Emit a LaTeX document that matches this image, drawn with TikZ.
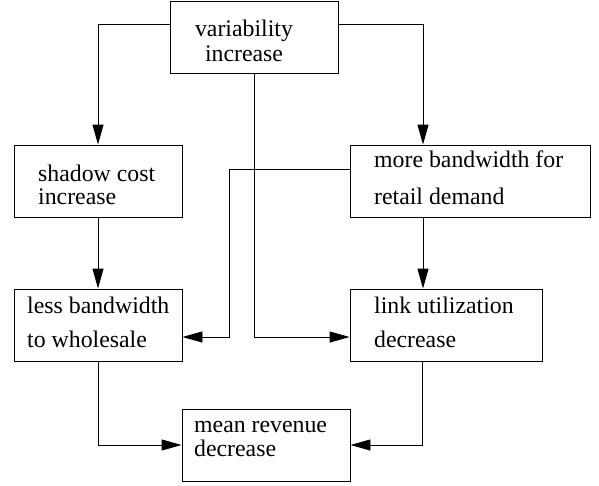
\documentclass[tikz,border=0pt]{standalone}
\usepackage{fontspec}
\setmainfont{Liberation Serif}
\usetikzlibrary{arrows.meta}
\begin{document}
\begin{tikzpicture}[x=1pt,y=-1pt,
  box/.style={draw,line width=0.9pt,inner sep=0pt,rectangle},
  txt/.style={inner sep=0pt,font=\fontsize{23.8}{26}\selectfont},
  link/.style={line width=0.9pt,-{Triangle[length=20pt,width=11pt]}},
  plain/.style={line width=0.9pt}]
\useasboundingbox (0,0) rectangle (599,485);
% boxes (corners in picture coordinates)
\node[box,minimum width=168pt,minimum height=72pt] (var)    at (254,37)  {};
\node[box,minimum width=168pt,minimum height=72pt] (shadow) at (98,181)  {};
\node[box,minimum width=240pt,minimum height=72pt] (retail) at (470,181) {};
\node[box,minimum width=168pt,minimum height=72pt] (less)   at (98,325)  {};
\node[box,minimum width=192pt,minimum height=72pt] (util)   at (446,325) {};
\node[box,minimum width=168pt,minimum height=72pt] (mean)   at (266,445) {};
% texts
\node[txt,anchor=base] (var1) at (244,36) {variability};
\node[txt,anchor=base] (var2) at (244,61) {increase};
\node[txt,anchor=base west] (sh1) at (38,181) {shadow cost};
\node[txt,anchor=base west] (sh2) at (38,204) {increase};
\node[txt,anchor=base west] (rt1) at (374,167) {more bandwidth for};
\node[txt,anchor=base west] (rt2) at (374,204) {retail demand};
\node[txt,anchor=base west] (ls1) at (27,313) {less bandwidth};
\node[txt,anchor=base west] (ls2) at (27,347) {to wholesale};
\node[txt,anchor=base west] (ut1) at (374,313) {link utilization};
\node[txt,anchor=base west] (ut2) at (374,347) {decrease};
\node[txt,anchor=base west] (mn1) at (194,432) {mean revenue};
\node[txt,anchor=base west] (mn2) at (194,456) {decrease};
% connectors
\coordinate (vl) at ([yshift=13pt]var.west);
\coordinate (vr) at ([yshift=13pt]var.east);
\draw[link] (vl) -| (shadow.north);
\draw[link] (vr) -| ([xshift=-47pt]retail.north);
\draw[link] (var.south) |- ([yshift=-12pt]util.west);
\draw[link] (shadow.south) -- (less.north);
\draw[link] ([xshift=-47pt]retail.south) -- ([xshift=-23pt]util.north);
\coordinate (rl) at ([yshift=12pt]retail.west);
\draw[link] (rl) -- ++(-120,0) |- ([yshift=-12pt]less.east);
\draw[link] (less.south) |- (mean.west);
\draw[link] ([xshift=-24pt]util.south) |- (mean.east);
\end{tikzpicture}
\end{document}
